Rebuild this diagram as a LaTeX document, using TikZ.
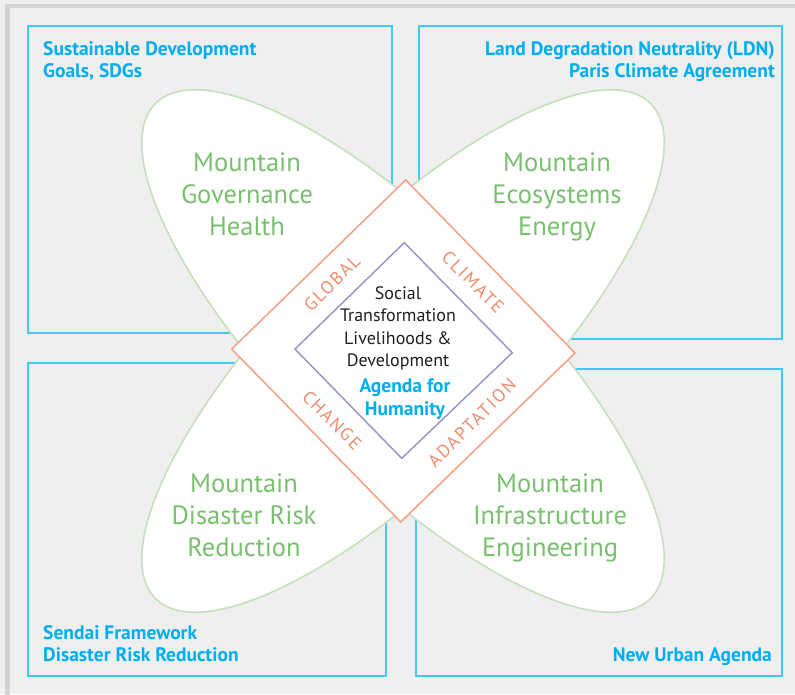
\documentclass[tikz,border=0pt]{standalone}
\usepackage{fontspec}
\setmainfont{PT Sans}
\newfontfamily\ringfont[LetterSpace=10]{PT Sans}
\usepackage{xcolor}
\definecolor{paper}{HTML}{EFEFEF}
\definecolor{rim}{HTML}{D3D3D5}
\definecolor{frameline}{HTML}{45C8F4}
\definecolor{frametext}{HTML}{00AEEF}
\definecolor{leafline}{HTML}{C6E0BC}
\definecolor{leaftext}{HTML}{79C06E}
\definecolor{salmon}{HTML}{F5A489}
\definecolor{ringtext}{HTML}{F08B6D}
\definecolor{lilac}{HTML}{9293C7}
\definecolor{ink}{HTML}{231F20}
\tikzset{
    frame-box/.style = {draw=frameline, line width=1.6pt},
    frame-title/.style = {text=frametext, font=\fontsize{19.5}{22}\selectfont\bfseries, inner sep=0pt},
    leaf/.style = {draw=leafline, fill=white, line width=1.6pt},
    leaf-title/.style = {text=leaftext, font=\fontsize{26.5}{32}\selectfont, align=center, inner sep=0pt, anchor=base},
    ring-title/.style = {text=ringtext, font=\ringfont\fontsize{18}{18}\selectfont, inner sep=0pt},
    core-title/.style = {text=ink, font=\fontsize{18}{22.5}\selectfont, align=center, inner sep=0pt, anchor=base},
}

\begin{document}
\begin{tikzpicture}[x=1pt, y=-1pt]
\useasboundingbox (0,0) rectangle (795,694);
\fill[paper] (0,0) rectangle (795,694);
\draw[rim, line width=4.5pt] (7.5,700) -- (7.5,6) -- (800,6);

% the four agreements
\draw[frame-box] (28,26) rectangle (392,333);
\draw[frame-box] (419,26) rectangle (782,339);
\draw[frame-box] (28,363) rectangle (386,676);
\draw[frame-box] (416,369) rectangle (782,676);

% base anchor sits on the last line
\node[frame-title, anchor=base west, align=left] (sdg) at (43,77) {Sustainable Development\\Goals, SDGs};
\node[frame-title, anchor=base east, align=right] (ldn) at (775,77) {Land Degradation Neutrality (LDN)\\Paris Climate Agreement\hspace{3pt}};
\node[frame-title, anchor=base west, align=left] (sendai) at (43,661) {Sendai Framework\\Disaster Risk Reduction};
\node[frame-title, anchor=base east] (urban) at (772,661) {New Urban Agenda};

% petals
\coordinate (hub) at (403,351);
\draw[leaf, rotate around={-45:(hub)}] (hub) ellipse [x radius=350, y radius=118];
\draw[leaf, rotate around={45:(hub)}] (hub) ellipse [x radius=350, y radius=118];

\node[leaf-title] (governance) at (247,235) {Mountain\\Governance\\Health};
\node[leaf-title] (ecosystems) at (557,235) {Mountain\\Ecosystems\\Energy};
\node[leaf-title] (disaster) at (244,556) {Mountain\\Disaster Risk\\Reduction};
\node[leaf-title] (infrastructure) at (550,556) {Mountain\\Infrastructure\\Engineering};

% diamonds
\draw[salmon, fill=white, line width=1.6pt] (405.7,180) -- (575,353) -- (400.7,522) -- (231.7,349) -- cycle;
\draw[lilac, line width=1.4pt] (404.3,242.7) -- (512.3,352.7) -- (401.7,458.3) -- (295,349) -- cycle;

\node[ring-title, rotate=45] (global) at (332,283) {GLOBAL};
\node[ring-title, rotate=-45] (climate) at (473,282) {CLIMATE};
\node[ring-title, rotate=-45] (change) at (332,420) {CHANGE};
\node[ring-title, rotate=45] (adaptation) at (472,423) {ADAPTATION};

\node[core-title] (social) at (398,366.7) {Social\\Transformation\\Livelihoods \&\\Development};
\node[core-title, text=frametext, font=\fontsize{19.5}{22.5}\selectfont\bfseries] (agenda) at (405,415) {Agenda for\\Humanity};
\end{tikzpicture}
\end{document}
